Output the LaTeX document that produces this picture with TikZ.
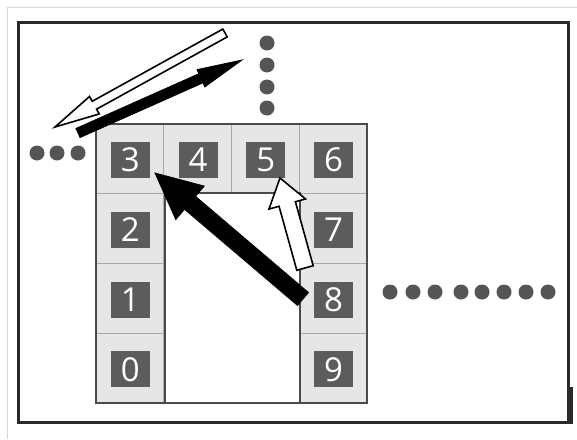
\documentclass[tikz,border=0pt]{standalone}
\usepackage{fontspec}
\newfontfamily\digitfont{Open Sans}
\usetikzlibrary{calc}
\definecolor{cellgray}{HTML}{E6E6E6}
\definecolor{divgray}{HTML}{A8A8A8}
\definecolor{boxgray}{HTML}{5C5C5C}
\definecolor{dotgray}{HTML}{555555}
\definecolor{ringgray}{HTML}{4A4A4A}
\definecolor{framegray}{HTML}{2A2A2A}
\definecolor{edgegray}{HTML}{D6D6D6}
\tikzset{
  cell/.style={draw=divgray, line width=1.2pt, fill=cellgray, minimum width=67.75pt, minimum height=69.75pt, inner sep=0pt},
  numbox/.style={fill=boxgray, minimum width=39pt, minimum height=36pt, inner sep=0pt, text=white, font=\digitfont\fontsize{33}{33}\selectfont},
  dot/.style={circle, fill=dotgray, minimum size=15pt, inner sep=0pt},
  blackarrow/.style={fill=black, draw=black, line width=0.8pt, line join=miter},
  whitearrow/.style={fill=white, draw=black, line width=1.6pt, line join=miter},
}
\newcommand\blockarrow[6]{%
  \coordinate (ban) at ($(#3)!#6!(#2)$);
  \draw[#1] ($(#2)!#4!90:(#3)$) -- ($(ban)!#4!90:(#3)$) -- ($(ban)!#5!90:(#3)$) -- (#3)
    -- ($(ban)!#5!-90:(#3)$) -- ($(ban)!#4!-90:(#3)$) -- ($(#2)!#4!-90:(#3)$) -- cycle;
}
\begin{document}
\begin{tikzpicture}[x=1pt,y=-1pt]
\useasboundingbox (0,0) rectangle (577,439);
\fill[white] (0,0) rectangle (577,439);
% light image edges
\draw[edgegray, line width=1.5pt] (7.5,439) -- (7.5,7.5) -- (577,7.5);
% frame
\draw[framegray, line width=3pt] (18,22) rectangle (568,422);
\draw[framegray, line width=4pt] (570.5,387) -- (570.5,424);

% cells
\foreach \lab/\cx/\cy in {3/0/0, 4/1/0, 5/2/0, 6/3/0, 2/0/1, 1/0/2, 0/0/3, 7/3/1, 8/3/2, 9/3/3}{
  \node[cell] (c\lab) at ({96+67.75*(\cx+0.5)},{124+69.75*(\cy+0.5)}) {};
}
% inner courtyard and ring outline
\draw[ringgray, line width=2.2pt, fill=white] (165,193) rectangle (300,403);
\draw[ringgray, line width=2.5pt] (96,124) rectangle (367,403);
% number boxes
\foreach \lab in {0,...,9}{
  \node[numbox] (n\lab) at ($(c\lab)+(0.5,1.2)$) {\lab};
}

% dots
\foreach \i/\x in {1/37, 2/57, 3/78}{ \node[dot] (dl\i) at (\x,153) {}; }
\foreach \i/\y in {1/43, 2/65, 3/87, 4/108}{ \node[dot] (dv\i) at (267,\y) {}; }
\foreach \i/\x in {1/390, 2/413, 3/435, 4/461, 5/482, 6/504, 7/526, 8/548}{ \node[dot] (dr\i) at (\x,292) {}; }

% arrows
\coordinate (a1s) at (78,133);  \coordinate (a1e) at (242,60);
\coordinate (a2s) at (225,33);  \coordinate (a2e) at (55,127);
\coordinate (a3s) at (303,299); \coordinate (a3e) at (155,173);
\coordinate (a4s) at (305,268); \coordinate (a4e) at (280,178);
\blockarrow{whitearrow}{a2s}{a2e}{4.5pt}{10pt}{45pt}
\blockarrow{blackarrow}{a1s}{a1e}{5pt}{9.5pt}{45pt}
\blockarrow{blackarrow}{a3s}{a3e}{8.5pt}{22pt}{46pt}
\blockarrow{whitearrow}{a4s}{a4e}{8.5pt}{19pt}{27pt}
\end{tikzpicture}
\end{document}
